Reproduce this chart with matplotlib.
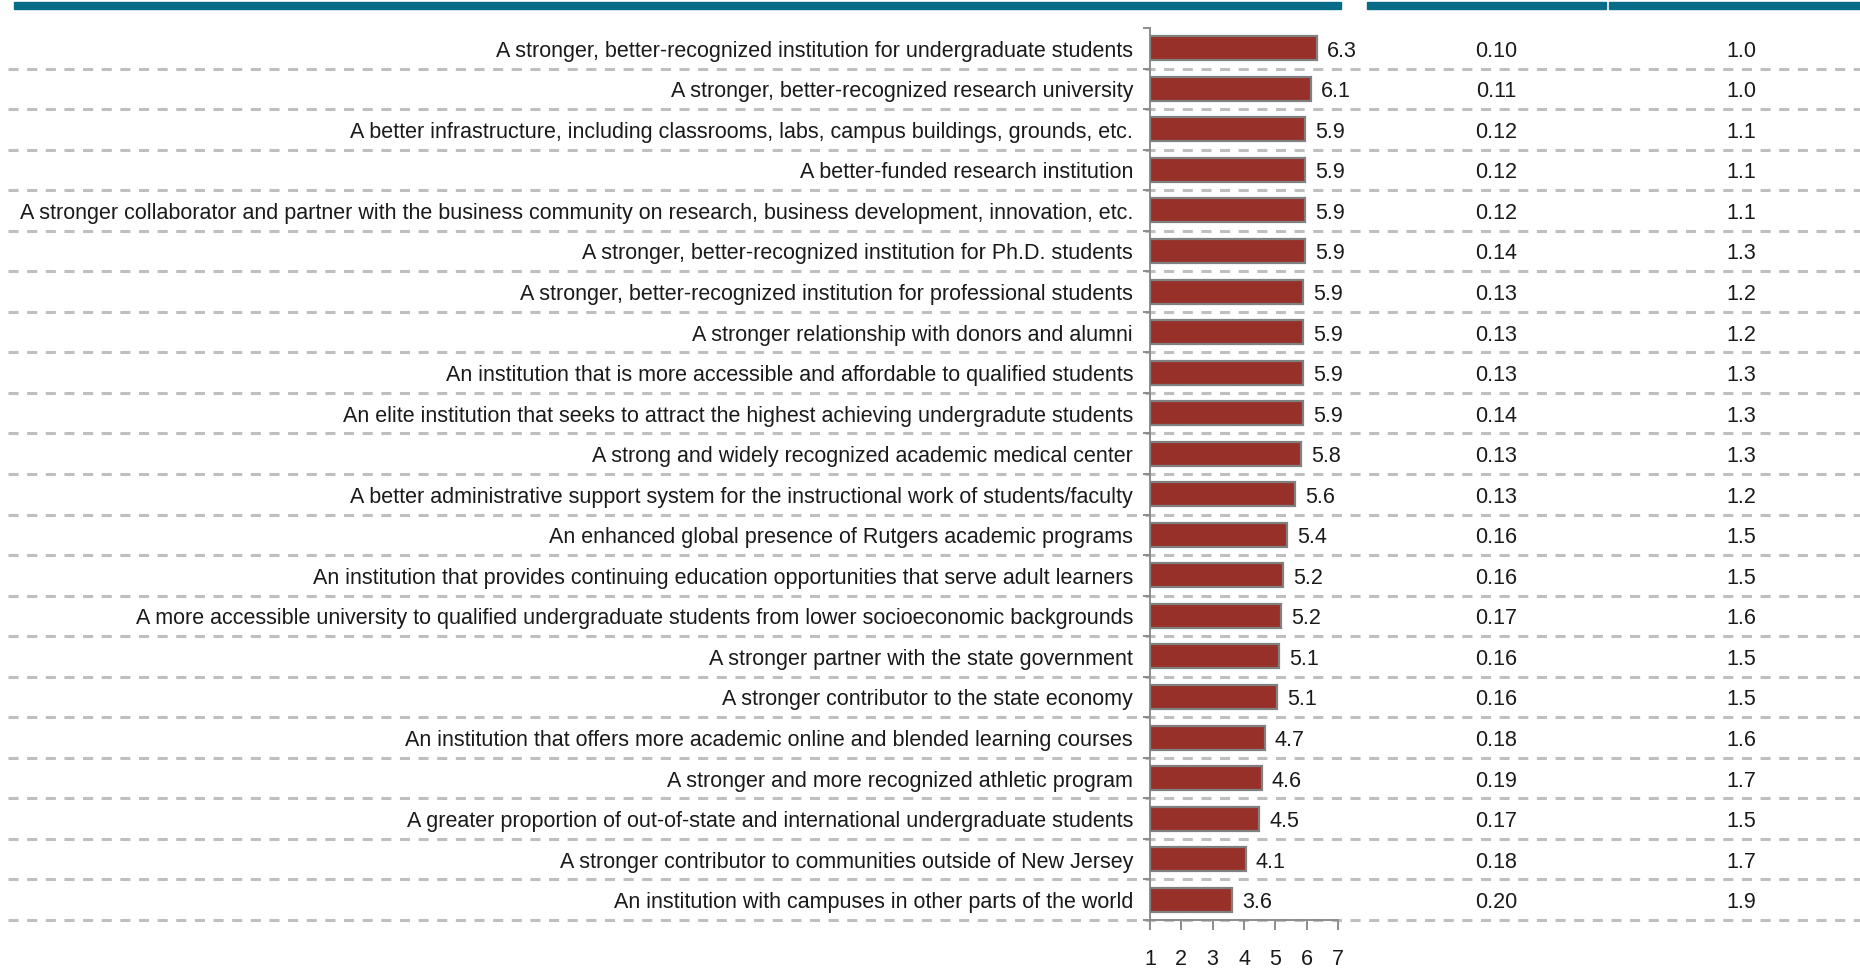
import matplotlib
matplotlib.use("Agg")
import matplotlib.pyplot as plt
import matplotlib.transforms as mtransforms
from matplotlib.patches import Rectangle

plt.rcParams['font.family'] = ['Liberation Sans', 'DejaVu Sans']

categories = [
    "A stronger, better-recognized institution for undergraduate students",
    "A stronger, better-recognized research university",
    "A better infrastructure, including classrooms, labs, campus buildings, grounds, etc.",
    "A better-funded research institution",
    "A stronger collaborator and partner with the business community on research, business development, innovation, etc.",
    "A stronger, better-recognized institution for Ph.D. students",
    "A stronger, better-recognized institution for professional students",
    "A stronger relationship with donors and alumni",
    "An institution that is more accessible and affordable to qualified students",
    "An elite institution that seeks to attract the highest achieving undergradute students",
    "A strong and widely recognized academic medical center",
    "A better administrative support system for the instructional work of students/faculty",
    "An enhanced global presence of Rutgers academic programs",
    "An institution that provides continuing education opportunities that serve adult learners",
    "A more accessible university to qualified undergraduate students from lower socioeconomic backgrounds",
    "A stronger partner with the state government",
    "A stronger contributor to the state economy",
    "An institution that offers more academic online and blended learning courses",
    "A stronger and more recognized athletic program",
    "A greater proportion of out-of-state and international undergraduate students",
    "A stronger contributor to communities outside of New Jersey",
    "An institution with campuses in other parts of the world",
]
means = [6.33, 6.13, 5.94, 5.94, 5.94, 5.94, 5.88, 5.88, 5.88, 5.88, 5.81,
         5.62, 5.38, 5.24, 5.18, 5.12, 5.06, 4.67, 4.56, 4.49, 4.06, 3.62]
std_err = ["0.10", "0.11", "0.12", "0.12", "0.12", "0.14", "0.13", "0.13", "0.13", "0.14", "0.13",
           "0.13", "0.16", "0.16", "0.17", "0.16", "0.16", "0.18", "0.19", "0.17", "0.18", "0.20"]
std_dev = ["1.0", "1.0", "1.1", "1.1", "1.1", "1.3", "1.2", "1.2", "1.3", "1.3", "1.3",
           "1.2", "1.5", "1.5", "1.6", "1.5", "1.5", "1.6", "1.7", "1.5", "1.7", "1.9"]
x_ticks = [1, 2, 3, 4, 5, 6, 7]

W, H = 1860, 970
fig = plt.figure(figsize=(W / 100, H / 100), dpi=100)

def fx(px):
    return px / W

def fy(py):
    return 1 - py / H

ax_left, ax_right, ax_top, ax_bot = 1150, 1338, 29, 921
ax = fig.add_axes([fx(ax_left), fy(ax_bot), fx(ax_right - ax_left), (ax_bot - ax_top) / H])

n = len(categories)
ys = list(range(n))
ax.barh(ys, [m - 1 for m in means], left=1, height=0.59, color='#963029',
        edgecolor='#808080', linewidth=1.6, zorder=3)
ax.set_xlim(1, 7)
ax.set_ylim(n - 0.5, -0.5)

for s in ['top', 'right']:
    ax.spines[s].set_visible(False)
for s in ['left', 'bottom']:
    ax.spines[s].set_color('#8c8c8c')
    ax.spines[s].set_linewidth(1.4)
ax.set_yticks([i - 0.5 for i in range(n + 1)])
ax.set_yticklabels([])
ax.tick_params(axis='y', length=5, width=1.4, color='#8c8c8c', direction='out')
ax.set_xticks(x_ticks)
ax.set_xticklabels([str(t) for t in x_ticks])
ax.tick_params(axis='x', length=7, width=1.4, color='#8c8c8c', direction='out',
               labelsize=15.5, pad=13.5, labelcolor='#1a1a1a')

blend = mtransforms.blended_transform_factory(fig.transFigure, ax.transData)

# dashed separators
for i in range(n):
    ax.plot([fx(8), 1.0], [i + 0.5, i + 0.5], transform=blend, color='#bfbfbf',
            linewidth=2.2, linestyle=(0, (3.3, 2.8)), clip_on=False, zorder=1,
            solid_capstyle='butt', dash_capstyle='butt')

offset = mtransforms.ScaledTranslation(10 / 100, 0, fig.dpi_scale_trans)
down = mtransforms.ScaledTranslation(0, -2 / 100, fig.dpi_scale_trans)
for i, (c, m, se, sd) in enumerate(zip(categories, means, std_err, std_dev)):
    fig_txt = dict(fontsize=15.5, color='#1a1a1a', va='center', clip_on=False)
    ax.text(fx(1133), i, c, transform=blend + down, ha='right', **fig_txt)
    ax.text(m, i, f"{m:.1f}", transform=ax.transData + offset + down, ha='left', **fig_txt)
    ax.text(fx(1496), i, se, transform=blend + down, ha='center', **fig_txt)
    ax.text(fx(1741), i, sd, transform=blend + down, ha='center', **fig_txt)

# header bars
teal = '#086c88'
for x0, x1 in [(14, 1341), (1367, 1606), (1609, 1860)]:
    fig.patches.append(Rectangle((fx(x0), fy(10)), fx(x1 - x0), 7 / H,
                                 transform=fig.transFigure, color=teal, zorder=5))

fig.savefig('out.png', dpi=100)
